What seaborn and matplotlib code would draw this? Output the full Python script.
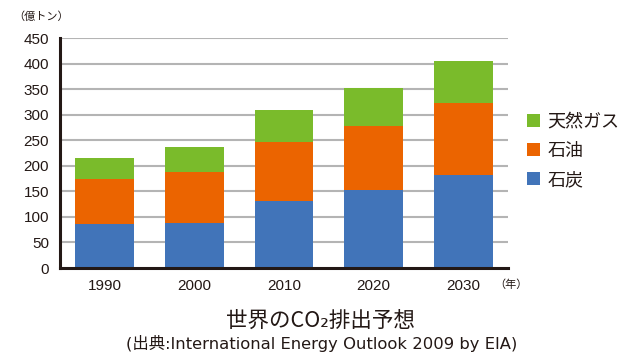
import matplotlib
matplotlib.use("Agg")
import matplotlib.pyplot as plt
import seaborn as sns
import numpy as np
import pandas as pd
from matplotlib.patches import Patch

years = ["1990", "2000", "2010", "2020", "2030"]
coal = [87, 89, 131, 153, 182]
oil = [87, 99, 116, 125, 140]
gas = [41, 49, 62, 74, 83]

series_names = ["天然ガス", "石油", "石炭"]
colors = {"石炭": "#4174b9", "石油": "#eb6400", "天然ガス": "#7abb2b"}

sns.set_theme(style="white")
plt.rcParams['font.family'] = ['Liberation Sans', 'Noto Sans CJK JP', 'DejaVu Sans']
JP = ['Noto Sans CJK JP', 'DejaVu Sans']

fig = plt.figure(figsize=(6.24, 3.52), dpi=100)
ax = fig.add_axes([60/624, 1-268/352, (508-60)/624, (268-38)/352])

df = pd.DataFrame({"year": years, "coal": coal, "oil": oil, "gas": gas})
bottom_oil = np.array(coal)
bottom_gas = np.array(coal) + np.array(oil)

w = 0.655
sns.barplot(data=df, x="year", y="coal", color=colors["石炭"], width=w, ax=ax,
            saturation=1, linewidth=0, zorder=3)
sns.barplot(data=df, x="year", y="oil", color=colors["石油"], width=w, ax=ax,
            saturation=1, linewidth=0, bottom=bottom_oil, zorder=3)
sns.barplot(data=df, x="year", y="gas", color=colors["天然ガス"], width=w, ax=ax,
            saturation=1, linewidth=0, bottom=bottom_gas, zorder=3)

ax.set_xlim(-0.5, 4.5)
ax.set_ylim(0, 450)
ax.set_yticks(range(0, 451, 50))
ax.set_xlabel("")
ax.set_ylabel("")
for y in range(50, 451, 50):
    ax.axhline(y, color="#b4b4b4", lw=1.5, zorder=1)

for s in ["top", "right"]:
    ax.spines[s].set_visible(False)
ax.spines["left"].set_color("#231815")
ax.spines["bottom"].set_color("#231815")
ax.spines["left"].set_linewidth(2.2)
ax.spines["bottom"].set_linewidth(2.2)
ax.spines["left"].set_zorder(5)
ax.spines["bottom"].set_zorder(5)
ax.tick_params(axis="both", length=0, labelsize=11, labelcolor="#231815")
ax.tick_params(axis="y", pad=8)
ax.tick_params(axis="x", pad=8)

handles = [Patch(facecolor=colors[n], edgecolor="none") for n in series_names]
fig.legend(handles, series_names, loc="center left", bbox_to_anchor=(511/624, 1-151/352),
           frameon=False, prop={"family": JP, "size": 13}, handlelength=0.72,
           handleheight=0.72, handletextpad=0.4, labelspacing=0.62, labelcolor="#231815")

fig.text(13/624, 1-17/352, "（億トン）", family=JP, fontsize=8, color="#231815",
         ha="left", va="center")
fig.text(511/624, 1-285/352, "（年）", family=JP, fontsize=8, color="#231815",
         ha="center", va="center")
fig.text(320/624, 1-321/352, "世界のCO₂排出予想", family=JP, fontsize=15.5,
         color="#231815", ha="center", va="center")
fig.text(322/624, 1-344/352, "(出典:International Energy Outlook 2009 by EIA)",
         family=['DejaVu Sans', 'Noto Sans CJK JP'], fontsize=11.8, color="#231815",
         ha="center", va="center")

fig.savefig("out.png", dpi=100)
